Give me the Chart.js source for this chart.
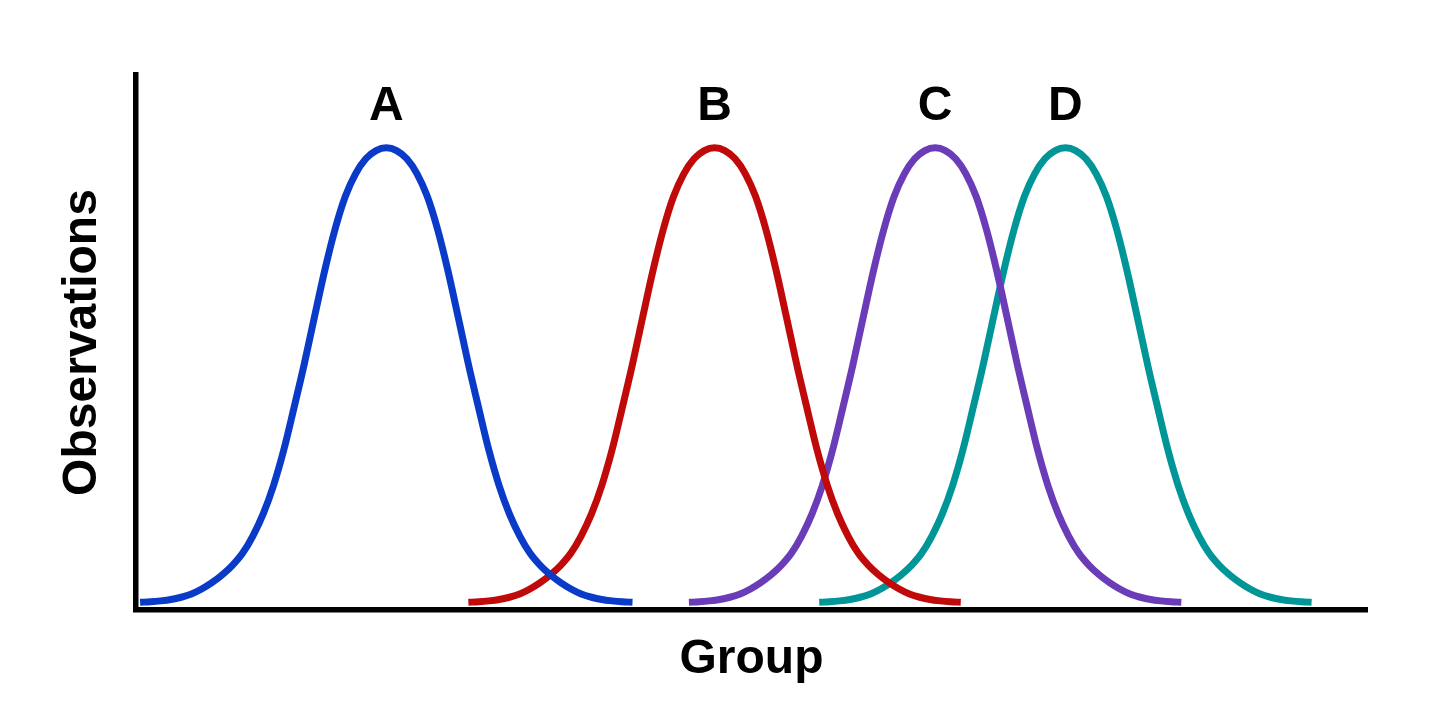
<!DOCTYPE html>
<html>
<head>
<meta charset="utf-8">
<script src="https://cdn.jsdelivr.net/npm/chart.js@4/dist/chart.umd.min.js"></script>
<style>
  html, body { margin: 0; padding: 0; background: #ffffff; }
  #wrap { width: 1440px; height: 720px; position: relative; }
</style>
</head>
<body>
<div id="wrap"><canvas id="chart"></canvas></div>
<script>
// groups and where each curve peaks on the x axis
const groups = ['A', 'B', 'C', 'D'];
const peaks = [24.4, 56.4, 77.9, 90.6];
const colors = ['#0a3ac8', '#c00a0a', '#6a3cb8', '#009698'];

const offsets = [0, 1, 2, 3, 4, 5, 6, 7, 8, 9, 10, 11, 12, 13, 14, 15, 16, 17, 18, 19, 20, 21, 22, 23, 24];
const heights = [100, 99.4, 97.6, 94.3, 89.3, 82.1, 73.1, 62.9, 52.5, 42.9, 33.6, 25.8, 19.6, 14.8, 11.0,
  8.3, 6.2, 4.5, 3.1, 2.0, 1.3, 0.8, 0.5, 0.3, 0.2];

function curvePoints(peak) {
  const pts = [];
  for (let i = offsets.length - 1; i > 0; i--) pts.push({ x: peak - offsets[i], y: heights[i] });
  for (let i = 0; i < offsets.length; i++) pts.push({ x: peak + offsets[i], y: heights[i] });
  return pts;
}

// letters above each peak
const peakLabels = {
  id: 'peakLabels',
  afterDatasetsDraw(chart) {
    const { ctx, scales: { x, y } } = chart;
    ctx.save();
    ctx.font = 'bold 48px "Liberation Sans", Arial, sans-serif';
    ctx.fillStyle = '#000';
    ctx.textAlign = 'center';
    ctx.textBaseline = 'alphabetic';
    groups.forEach((g, i) => {
      ctx.fillText(g, x.getPixelForValue(peaks[i]), y.getPixelForValue(100) - 28);
    });
    ctx.restore();
  }
};

const titleFont = { family: '"Liberation Sans", Arial, sans-serif', size: 48, weight: 'bold' };

new Chart(document.getElementById('chart').getContext('2d'), {
  type: 'line',
  data: {
    datasets: groups.map((g, i) => ({
      label: g,
      data: curvePoints(peaks[i]),
      borderColor: colors[i],
      borderWidth: 7,
      pointRadius: 0,
      fill: false,
      cubicInterpolationMode: 'monotone'
    }))
  },
  options: {
    responsive: true,
    maintainAspectRatio: false,
    animation: false,
    layout: { padding: { left: 0, right: 73, top: 75, bottom: 31.8 } },
    plugins: { legend: { display: false }, tooltip: { enabled: false } },
    scales: {
      x: {
        type: 'linear',
        min: 0,
        max: 120,
        grid: { display: false, drawTicks: false },
        ticks: { display: false },
        border: { display: true, color: '#000', width: 5.5 },
        title: { display: true, text: 'Group', color: '#000', font: titleFont, padding: { top: 20.6, bottom: 0 } }
      },
      y: {
        min: -1.5,
        max: 116,
        grid: { display: false, drawTicks: false },
        ticks: { display: false },
        border: { display: true, color: '#000', width: 5.5 },
        title: { display: true, text: 'Observations', color: '#000', font: titleFont, padding: { top: 54.2, bottom: 24.2 } }
      }
    }
  },
  plugins: [peakLabels]
});
</script>
</body>
</html>
